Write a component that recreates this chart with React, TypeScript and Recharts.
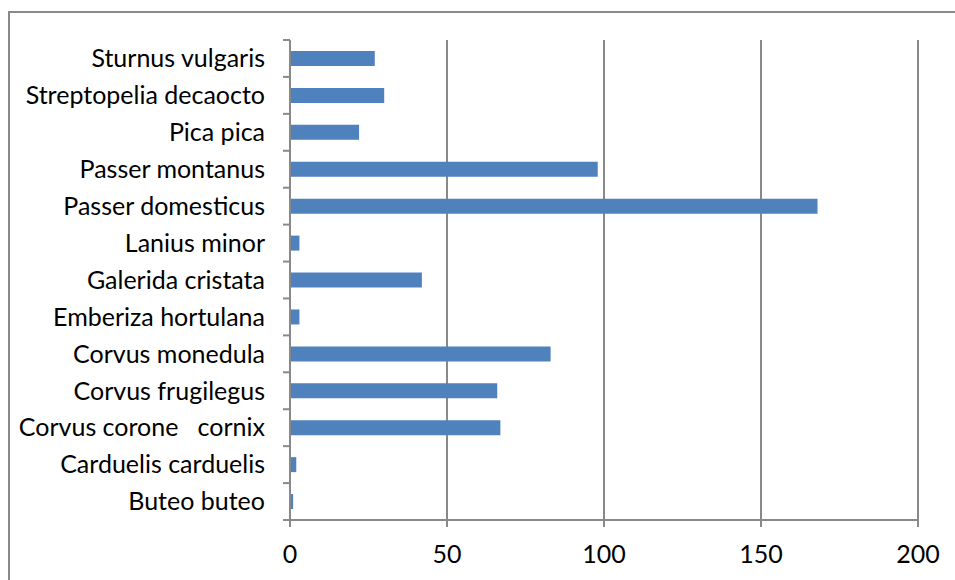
import { useLayoutEffect } from 'react';
import { Bar, BarChart, CartesianGrid, XAxis, YAxis } from 'recharts';

const species = [
  'Sturnus vulgaris',
  'Streptopelia decaocto',
  'Pica pica',
  'Passer montanus',
  'Passer domesticus',
  'Lanius minor',
  'Galerida cristata',
  'Emberiza hortulana',
  'Corvus monedula',
  'Corvus frugilegus',
  'Corvus corone   cornix',
  'Carduelis carduelis',
  'Buteo buteo',
];

const counts = [27, 30, 22, 98, 168, 3, 42, 3, 83, 66, 67, 2, 1];

const xTicks = [0, 50, 100, 150, 200];

const chartData = species.map((name, i) => ({ name, count: counts[i] }));

const GREY = '#898989';
const FONT = 'Lato, "Liberation Sans", sans-serif';

// category ticks sit on the band edges, labels at the band centre
function SpeciesTick(props: any) {
  const { x, y, payload, index } = props;
  const half = payload.offset || 0;
  const last = index === species.length - 1;
  return (
    <g>
      <line x1={x - 7} x2={x} y1={y - half} y2={y - half} stroke={GREY} strokeWidth={2} />
      {last && <line x1={x - 7} x2={x} y1={y + half} y2={y + half} stroke={GREY} strokeWidth={2} />}
      <text
        x={x - 25}
        y={y}
        dy="0.35em"
        textAnchor="end"
        fill="#000"
        fontSize={25}
        fontFamily={FONT}
        style={{ whiteSpace: 'pre' }}
      >
        {payload.value}
      </text>
    </g>
  );
}

export default function App() {
  useLayoutEffect(() => {
    document.body.style.margin = '0';
  }, []);

  return (
    <div style={{ position: 'relative', width: 955, height: 580, overflow: 'hidden', background: '#fff' }}>
      {/* frame of the chart area; its right and bottom edges run off the page */}
      <div
        style={{
          position: 'absolute',
          left: 8,
          top: 11,
          width: 980,
          height: 600,
          borderLeft: `2px solid ${GREY}`,
          borderTop: `2px solid ${GREY}`,
        }}
      />
      <div style={{ position: 'absolute', left: 10, top: 13 }}>
        <BarChart
          width={945}
          height={567}
          data={chartData}
          layout="vertical"
          margin={{ top: 27, right: 37, bottom: 20, left: 0 }}
        >
          <CartesianGrid horizontal={false} syncWithTicks stroke={GREY} strokeWidth={2} />
          <XAxis
            type="number"
            domain={[0, 200]}
            ticks={xTicks}
            height={40}
            stroke={GREY}
            strokeWidth={2}
            tickSize={7}
            tickMargin={18}
            tick={{ fill: '#000', fontSize: 25, fontFamily: FONT }}
          />
          <YAxis
            dataKey="name"
            type="category"
            width={280}
            stroke={GREY}
            strokeWidth={2}
            tickLine={false}
            tickSize={0}
            tickMargin={0}
            interval={0}
            tick={<SpeciesTick />}
          />
          <Bar dataKey="count" fill="#4F81BD" barSize={15} isAnimationActive={false} />
        </BarChart>
      </div>
    </div>
  );
}
